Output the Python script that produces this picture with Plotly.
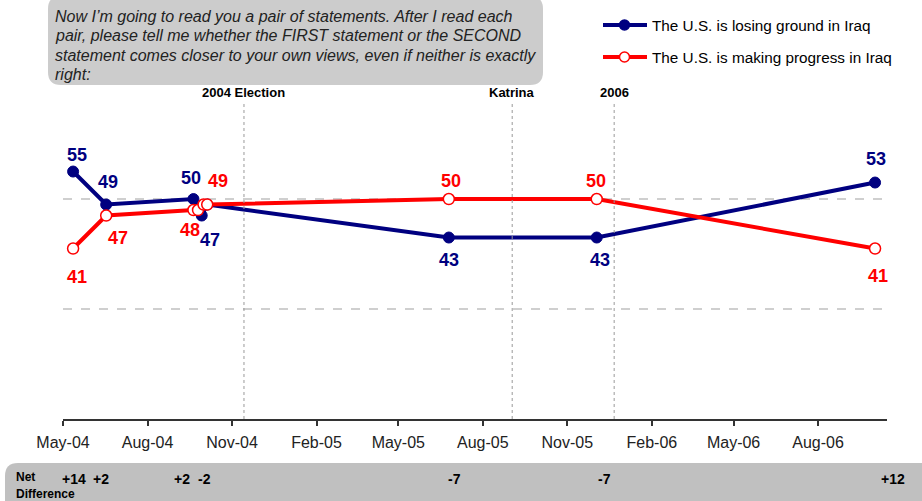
import plotly.graph_objects as go

# ---------------- data ----------------
blue_name = "The U.S. is losing ground in Iraq"
red_name = "The U.S. is making progress in Iraq"

blue_dates = ["2004-05-12", "2004-06-17", "2004-09-20", "2004-09-29", "2004-10-05",
              "2005-06-25", "2005-12-03", "2006-10-02"]
blue_vals = [55, 49, 50, 47, 49, 43, 43, 53]
blue_labeled = [True, True, True, True, False, True, True, True]

red_dates = ["2004-05-12", "2004-06-17", "2004-09-20", "2004-09-25", "2004-10-01",
             "2004-10-05", "2005-06-25", "2005-12-03", "2006-10-02"]
red_vals = [41, 47, 48, 48, 49, 49, 50, 50, 41]
red_labeled = [True, True, True, False, False, True, True, True, True]

# net difference row (losing ground minus making progress)
net_dates = ["2004-05-12", "2004-06-17", "2004-09-20", "2004-09-29",
             "2005-06-25", "2005-12-03", "2006-10-02"]
net_vals = [14, 2, 2, -2, -7, -7, 12]

tick_dates = ["2004-05-01", "2004-08-01", "2004-11-01", "2005-02-01", "2005-05-01",
              "2005-08-01", "2005-11-01", "2006-02-01", "2006-05-01", "2006-08-01"]
tick_text = ["May-04", "Aug-04", "Nov-04", "Feb-05", "May-05",
             "Aug-05", "Nov-05", "Feb-06", "May-06", "Aug-06"]

events = ["2004 Election", "Katrina", "2006"]
event_dates = ["2004-11-14", "2005-09-02", "2005-12-22"]

question_lines = ["Now I’m going to read you a pair of statements. After I read each",
                  "pair, please tell me whether the FIRST statement or the SECOND",
                  "statement comes closer to your own views, even if neither is exactly",
                  "right:"]

# ---------------- style ----------------
BLUE = "#000080"
RED = "#FF0000"
FONT = "Arial, Liberation Sans, sans-serif"

L, R, T, B = 63, 35, 89, 82
W, H = 922, 501
PW, PH = W - L - R, H - T - B


def px_x(px):
    return (px - L) / PW


def px_y(py):
    return (H - B - py) / PH


blue_offsets = [(4, 17), (2, 23), (-2, 21), (8, -24), None, (0, -22), (3, -22), (1, 24)]
red_offsets = [(4, -28), (12, -22), (-3, -20), None, None, (11, 24), (2, 18), (-1, 18), (3, -27)]
net_shifts = [1, -5, -11, 3, 6, 8, 18]

fig = go.Figure()
fig.add_trace(go.Scatter(
    x=blue_dates, y=blue_vals, name=blue_name, mode="lines+markers",
    line=dict(color=BLUE, width=4),
    marker=dict(color=BLUE, size=11, line=dict(color=BLUE, width=1)),
    showlegend=False, cliponaxis=False))
fig.add_trace(go.Scatter(
    x=red_dates, y=red_vals, name=red_name, mode="lines+markers",
    line=dict(color=RED, width=4),
    marker=dict(color="white", size=11, line=dict(color=RED, width=1.5)),
    showlegend=False, cliponaxis=False))

annotations = []
for d, v, lab, off in zip(blue_dates, blue_vals, blue_labeled, blue_offsets):
    if lab:
        annotations.append(dict(x=d, y=v, xref="x", yref="y", text=f"<b>{v}</b>",
                                showarrow=False, xshift=off[0], yshift=off[1],
                                font=dict(family=FONT, size=18, color=BLUE)))
for d, v, lab, off in zip(red_dates, red_vals, red_labeled, red_offsets):
    if lab:
        annotations.append(dict(x=d, y=v, xref="x", yref="y", text=f"<b>{v}</b>",
                                showarrow=False, xshift=off[0], yshift=off[1],
                                font=dict(family=FONT, size=18, color=RED)))

# net difference row
for d, v, s in zip(net_dates, net_vals, net_shifts):
    txt = f"+{v}" if v > 0 else f"{v}"
    annotations.append(dict(x=d, y=px_y(479), xref="x", yref="paper", text=f"<b>{txt}</b>",
                            showarrow=False, xshift=s, yanchor="middle",
                            font=dict(family=FONT, size=14, color="black")))
for txt, py in (("Net", 477), ("Difference", 494)):
    annotations.append(dict(x=px_x(14), y=px_y(py), xref="paper", yref="paper",
                            text=f"<b>{txt}</b>", showarrow=False, align="left",
                            xanchor="left", yanchor="middle",
                            font=dict(family=FONT, size=12, color="black")))

# question box text
for i, line in enumerate(question_lines):
    annotations.append(dict(x=px_x(53), y=px_y(16 + 19.6 * i), xref="paper", yref="paper",
                            text=f"<i>{line}</i>", showarrow=False, align="left",
                            xanchor="left", yanchor="middle",
                            font=dict(family=FONT, size=16, color="#222222")))

shapes = []
# event lines + labels
for name, d in zip(events, event_dates):
    shapes.append(dict(type="line", xref="x", yref="paper", x0=d, x1=d,
                       y0=0, y1=px_y(103), line=dict(color="#999999", width=1, dash="dot")))
    annotations.append(dict(x=d, y=px_y(93), xref="x", yref="paper", text=f"<b>{name}</b>",
                            showarrow=False, yanchor="middle",
                            font=dict(family=FONT, size=13, color="black")))

# manual legend
for name, col, fill, py in ((blue_name, BLUE, BLUE, 25), (red_name, RED, "white", 57)):
    shapes.append(dict(type="line", xref="paper", yref="paper",
                       x0=px_x(603), x1=px_x(647), y0=px_y(py), y1=px_y(py),
                       line=dict(color=col, width=4)))
    shapes.append(dict(type="circle", xref="paper", yref="paper",
                       x0=px_x(619.5), x1=px_x(629.5), y0=px_y(py - 5), y1=px_y(py + 5),
                       fillcolor=fill, line=dict(color=col, width=1.5)))
    annotations.append(dict(x=px_x(650), y=px_y(py), xref="paper", yref="paper",
                            text=name, showarrow=False, xanchor="left", yanchor="middle",
                            font=dict(family=FONT, size=15.3, color="black")))


def rounded(x0, y0, x1, y1, r):
    X0, X1 = px_x(x0), px_x(x1)
    Y0, Y1 = px_y(y0), px_y(y1)
    rx, ry = r / PW, r / PH
    return (f"M {X0+rx},{Y0} L {X1-rx},{Y0} Q {X1},{Y0} {X1},{Y0-ry} "
            f"L {X1},{Y1+ry} Q {X1},{Y1} {X1-rx},{Y1} L {X0+rx},{Y1} "
            f"Q {X0},{Y1} {X0},{Y1+ry} L {X0},{Y0-ry} Q {X0},{Y0} {X0+rx},{Y0} Z")


shapes.append(dict(type="path", xref="paper", yref="paper", path=rounded(48, -4, 543, 85, 13),
                   fillcolor="#cccccc", line=dict(width=0), layer="below"))
shapes.append(dict(type="path", xref="paper", yref="paper", path=rounded(5, 463, 935, 515, 13),
                   fillcolor="#c0c0c0", line=dict(width=0), layer="below"))

fig.update_layout(
    width=W, height=H,
    margin=dict(l=L, r=R, t=T, b=B),
    paper_bgcolor="white", plot_bgcolor="white",
    font=dict(family=FONT, color="black"),
    showlegend=False,
    xaxis=dict(type="date", range=["2004-05-01", "2006-10-15"],
               tickvals=tick_dates, ticktext=tick_text, ticks="outside", ticklen=5,
               tickwidth=1.5, tickcolor="#333333", showline=True, linecolor="#333333",
               linewidth=2, showgrid=False, zeroline=False, ticklabelstandoff=3,
               tickfont=dict(family=FONT, size=16, color="#222222")),
    yaxis=dict(range=[10, 70.01], tickvals=[30, 50, 70], showticklabels=False,
               showgrid=True, gridcolor="#cfcfcf", gridwidth=1.5, griddash="dash",
               zeroline=False, showline=False),
    annotations=annotations,
    shapes=shapes,
)

fig.write_html("out.html")
